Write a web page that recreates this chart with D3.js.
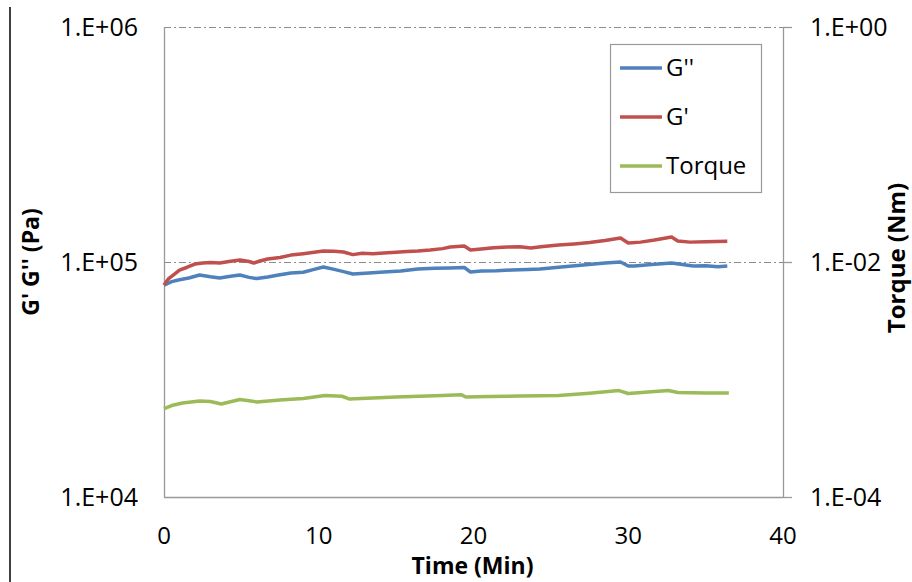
<!DOCTYPE html>
<html>
<head>
<meta charset="utf-8">
<script src="https://cdn.jsdelivr.net/npm/d3@7"></script>
<style>
body { margin:0; background:#fff; }
svg { font-family:"Open Sans", sans-serif; }
</style>
</head>
<body>
<div id="chart"></div>
<script>
// G' (Pa), [time in min, value in kPa]
var gPrime = [[0,79.8],[0.3,85],[0.7,89],[1.0,92.4],[1.5,95],[2.0,98],[2.5,99],[3.0,99.5],[3.6,99],[4.2,100.5],[4.9,102],[5.5,100.5],[5.8,99],[6.2,101],[6.7,103],[7.5,104.5],[8.2,107],[9.0,108.5],[9.7,110],[10.3,111.4],[11.0,111],[11.6,110.3],[12.2,107.5],[12.8,109],[13.5,108.5],[14.2,109.2],[15.0,110],[15.7,110.8],[16.4,111.4],[17.2,112.5],[18.0,114],[18.5,115.8],[19.4,117],[19.8,112.5],[20.5,113.6],[21.3,115],[22.2,115.8],[23.0,116],[23.7,114.7],[24.5,116.5],[25.5,118],[26.5,119.3],[27.5,121],[28.5,123.5],[29.5,126.5],[30.0,120.5],[30.8,121.5],[31.7,124],[32.8,127.8],[33.2,122.8],[34.0,121.5],[35.0,122],[36.4,122.5]]
// G'' (Pa)
var gDouble = [[0,79.8],[0.5,82.5],[1.0,84],[1.6,85.5],[2.3,88],[3.0,86.5],[3.6,85.5],[4.3,87],[4.9,88],[5.5,86],[6.0,85],[6.7,86.3],[7.4,88],[8.2,89.8],[9.0,90.5],[9.7,93],[10.3,95.2],[11.0,93],[11.6,91],[12.2,88.9],[13.0,89.5],[14.2,90.7],[15.3,91.5],[16.4,93.4],[17.5,94],[18.5,94.3],[19.4,94.8],[19.8,90.7],[20.5,91.5],[21.5,91.8],[22.5,92.5],[23.5,93],[24.3,93.4],[25.5,95],[27.1,97.1],[28.5,99],[29.5,100],[30.0,96.2],[30.4,96.2],[31.5,97.5],[32.8,99],[33.5,97.5],[34.2,96.2],[35.0,96.5],[35.8,95.5],[36.4,96.2]]
// Torque (Nm), value x 1e-4
var torque = [[0,5.65],[0.5,6.0],[1.2,6.3],[2.3,6.56],[3.0,6.5],[3.7,6.18],[4.9,6.75],[5.5,6.6],[6.0,6.44],[7.5,6.7],[9.0,6.9],[10.4,7.31],[11.5,7.2],[12.0,6.82],[13.5,6.95],[15.0,7.1],[16.5,7.2],[18.0,7.3],[19.2,7.43],[19.5,7.1],[21.0,7.15],[23.0,7.25],[25.5,7.31],[27.5,7.65],[29.4,8.05],[30.0,7.6],[31.5,7.85],[32.6,8.05],[33.2,7.75],[35.0,7.68],[36.5,7.68]]

var xTicks = [0,10,20,30,40]
var leftTicks = [1e4,1e5,1e6]
var leftLabels = ["1.E+04","1.E+05","1.E+06"]
var rightTicks = [1e-4,1e-2,1e0]
var rightLabels = ["1.E-04","1.E-02","1.E+00"]
var seriesNames = ["G''","G'","Torque"]
var colors = ["#4F81BD","#C0504D","#9BBB59"]

var W = 912, H = 582
var pLeft = 164, pRight = 783, pTop = 27, pBottom = 497

var svg = d3.select("#chart").append("svg").attr("width",W).attr("height",H)

var x = d3.scaleLinear().domain([0,40]).range([pLeft,pRight])
var yL = d3.scaleLog().domain([1e4,1e6]).range([pBottom,pTop])
var yR = d3.scaleLog().domain([1e-4,1e0]).range([pBottom,pTop])

// left border line of the figure
svg.append("line").attr("x1",10).attr("x2",10).attr("y1",7).attr("y2",H)
    .attr("stroke","#000").attr("stroke-width",1.5)

// gridlines
svg.selectAll(".grid").data([1e5,1e6]).enter().append("line")
    .attr("x1",pLeft).attr("x2",pRight)
    .attr("y1",function(d){ return yL(d)+0.5 }).attr("y2",function(d){ return yL(d)+0.5 })
    .attr("stroke","#8c8c8c").attr("stroke-width",1).attr("stroke-dasharray","7,3,2,3")

// axis frame
var axisColor = "#999"
svg.append("line").attr("x1",pLeft+0.5).attr("x2",pLeft+0.5).attr("y1",pTop).attr("y2",pBottom)
    .attr("stroke",axisColor).attr("stroke-width",1.3)
svg.append("line").attr("x1",pLeft).attr("x2",pRight).attr("y1",pBottom+0.5).attr("y2",pBottom+0.5)
    .attr("stroke",axisColor).attr("stroke-width",1.3)
svg.append("line").attr("x1",pRight+0.5).attr("x2",pRight+0.5).attr("y1",pTop).attr("y2",pBottom)
    .attr("stroke",axisColor).attr("stroke-width",1.3)
svg.selectAll(".rtick").data(rightTicks).enter().append("line")
    .attr("x1",pRight).attr("x2",pRight+9)
    .attr("y1",function(d){ return yR(d)+0.5 }).attr("y2",function(d){ return yR(d)+0.5 })
    .attr("stroke",axisColor).attr("stroke-width",1.3)

// tick labels
svg.selectAll(".ll").data(leftTicks).enter().append("text")
    .attr("x",138).attr("y",function(d){ return yL(d) })
    .attr("dy","0.35em").attr("text-anchor","end")
    .attr("font-size",25).attr("fill","#000")
    .text(function(d,i){ return leftLabels[i] })
svg.selectAll(".rl").data(rightTicks).enter().append("text")
    .attr("x",810).attr("y",function(d){ return yR(d) })
    .attr("dy","0.35em").attr("text-anchor","start")
    .attr("font-size",25).attr("fill","#000")
    .text(function(d,i){ return rightLabels[i] })
svg.selectAll(".xl").data(xTicks).enter().append("text")
    .attr("x",function(d){ return x(d) }).attr("y",536)
    .attr("dy","0.35em").attr("text-anchor","middle")
    .attr("font-size",24).attr("fill","#000")
    .text(function(d){ return d })

// axis titles
svg.append("text").attr("x",(pLeft+pRight)/2-1).attr("y",566).attr("dy","0.35em")
    .attr("text-anchor","middle").attr("font-size",23).attr("font-weight","bold")
    .text("Time (Min)")
svg.append("text").attr("transform","translate(31,262) rotate(-90)").attr("dy","0.35em")
    .attr("text-anchor","middle").attr("font-size",23).attr("font-weight","bold")
    .text("G' G'' (Pa)")
svg.append("text").attr("transform","translate(897,258) rotate(-90)").attr("dy","0.35em")
    .attr("text-anchor","middle").attr("font-size",24).attr("font-weight","bold")
    .text("Torque (Nm)")

// series
var lineL = d3.line().x(function(d){ return x(d[0]) }).y(function(d){ return yL(d[1]*1000) })
var lineR = d3.line().x(function(d){ return x(d[0]) }).y(function(d){ return yR(d[1]*1e-4) })

svg.append("path").datum(gDouble).attr("d",lineL)
    .attr("fill","none").attr("stroke",colors[0]).attr("stroke-width",3.5).attr("stroke-linejoin","round")
svg.append("path").datum(gPrime).attr("d",lineL)
    .attr("fill","none").attr("stroke",colors[1]).attr("stroke-width",3.5).attr("stroke-linejoin","round")
svg.append("path").datum(torque).attr("d",lineR)
    .attr("fill","none").attr("stroke",colors[2]).attr("stroke-width",3.5).attr("stroke-linejoin","round")

// legend
var legend = svg.append("g")
legend.append("rect").attr("x",610.5).attr("y",44.5).attr("width",151).attr("height",148)
    .attr("fill","#fff").attr("stroke","#999").attr("stroke-width",1.2)
var items = legend.selectAll(".item").data(seriesNames).enter().append("g")
    .attr("transform",function(d,i){ return "translate(0," + (68 + i*49) + ")" })
items.append("line").attr("x1",620).attr("x2",662).attr("y1",0).attr("y2",0)
    .attr("stroke",function(d,i){ return colors[i] }).attr("stroke-width",3.5)
items.append("text").attr("x",666).attr("y",0).attr("dy","0.35em")
    .attr("font-size",24).text(function(d){ return d })
</script>
</body>
</html>
